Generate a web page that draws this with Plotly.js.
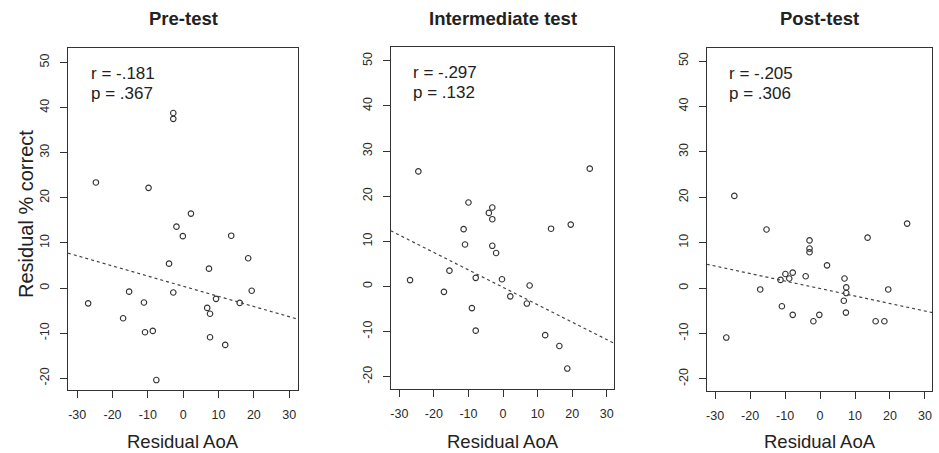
<!DOCTYPE html>
<html>
<head>
<meta charset="utf-8">
<script src="https://cdn.plot.ly/plotly-3.0.1.min.js"></script>
<style>html,body{margin:0;padding:0;background:#fff;}#chart{width:939px;height:453px;}</style>
</head>
<body>
<div id="chart"></div>
<script>
// ---- data ----
const panelTitles = ["Pre-test", "Intermediate test", "Post-test"];
const rLabels = ["r = -.181", "r = -.297", "r = -.205"];
const pLabels = ["p = .367", "p = .132", "p = .306"];

const preX  = [-2.8, -2.8, -24.7, -9.8, 2.2, -1.9, -0.1, 13.6, 18.4, -4.0, 7.3, -15.3, -2.8, 19.4, 9.3, -26.9, -11.1, 16.0, 6.8, 7.6, -17.0, -10.8, -8.6, 7.6, 11.9, -7.6];
const preY  = [38.8, 37.5, 23.4, 22.2, 16.5, 13.6, 11.5, 11.6, 6.6, 5.4, 4.3, -0.8, -1.0, -0.6, -2.4, -3.4, -3.2, -3.3, -4.4, -5.7, -6.7, -9.8, -9.5, -10.9, -12.6, -20.4];

const midX  = [-24.5, 25.1, -10.0, -3.1, -4.1, -3.1, 13.9, 19.6, -11.4, -11.0, -3.1, -2.0, -15.5, -26.9, -7.9, -0.3, 7.7, -17.1, 2.1, 6.9, -9.0, -7.9, 12.2, 16.3, 18.6];
const midY  = [25.5, 26.1, 18.6, 17.5, 16.3, 14.9, 12.8, 13.7, 12.7, 9.3, 9.0, 7.4, 3.5, 1.4, 1.9, 1.6, 0.2, -1.2, -2.2, -3.8, -4.8, -9.8, -10.8, -13.2, -18.2];

const postX = [-24.5, 24.9, -15.3, 13.6, -3.0, -3.0, -3.0, 2.0, -9.9, -7.8, -11.3, -8.8, -4.1, 7.0, -17.1, 7.5, 7.5, 19.5, 6.8, -10.9, 7.4, -7.8, -0.2, -1.9, 15.9, 18.4, -26.8, 9.2];
const postY = [20.3, 14.2, 12.9, 11.1, 10.5, 8.7, 7.9, 5.0, 3.1, 3.4, 1.8, 2.1, 2.6, 2.1, -0.3, 0.15, -1.1, -0.3, -2.8, -4.0, -5.4, -5.9, -5.9, -7.3, -7.3, -7.3, -10.9, -22.9];

// fitted regression lines (intercept, slope)
const fitIntercepts = [0.4, -0.2, -0.1];
const fitSlopes = [-0.225, -0.386, -0.165];

const xTicks = [-30, -20, -10, 0, 10, 20, 30];
const yTicks = [-20, -10, 0, 10, 20, 30, 40, 50];

// ---- layout geometry ----
const W = 939, H = 453;
const boxes = [ // pixel boxes [left, right, top, bottom]
  [68, 298, 48, 390],
  [390.7, 614.3, 47.3, 389.3],
  [706.7, 932.3, 48.3, 390.7]
];
const xRanges = [[-32.6, 32.5], [-32.5, 32.2], [-32.4, 32.1]];
const yRanges = [[-22.6, 53.2], [-22.8, 53.0], [-22.6, 52.8]];

const FONT = "Liberation Sans, Arial, Helvetica, sans-serif";
const INK = "#2a2a2a";

const xs = [preX, midX, postX];
const ys = [preY, midY, postY];

const traces = [];
const layout = {
  width: W, height: H,
  margin: {l: 0, r: 0, t: 0, b: 0},
  paper_bgcolor: "#fff", plot_bgcolor: "#fff",
  showlegend: false,
  font: {family: FONT, color: INK},
  annotations: []
};

for (let i = 0; i < 3; i++) {
  const suf = i === 0 ? "" : String(i + 1);
  const b = boxes[i];
  const xd = [b[0] / W, b[1] / W];
  const yd = [1 - b[3] / H, 1 - b[2] / H];
  layout["xaxis" + suf] = {
    domain: xd, range: xRanges[i], anchor: "y" + suf,
    showgrid: false, zeroline: false,
    showline: true, mirror: true, linecolor: "#333", linewidth: 1,
    ticks: "outside", ticklen: 7, tickwidth: 1, tickcolor: "#333",
    tickmode: "array", tickvals: xTicks, ticktext: xTicks.map(String),
    tickfont: {family: FONT, size: 12.5, color: INK},
    ticklabelstandoff: 6
  };
  layout["yaxis" + suf] = {
    domain: yd, range: yRanges[i], anchor: "x" + suf,
    showgrid: false, zeroline: false,
    showline: true, mirror: true, linecolor: "#333", linewidth: 1,
    ticks: "outside", ticklen: 7, tickwidth: 1, tickcolor: "#333",
    tickmode: "array", tickvals: yTicks, ticktext: yTicks.map(String),
    tickangle: -90,
    tickfont: {family: FONT, size: 12.5, color: INK},
    ticklabelstandoff: 6
  };
  traces.push({
    type: "scatter", mode: "markers",
    x: xs[i], y: ys[i],
    xaxis: "x" + suf, yaxis: "y" + suf,
    cliponaxis: false,
    marker: {symbol: "circle-open", size: 5.5, color: "#333", line: {width: 1.1, color: "#333"}},
    hoverinfo: "skip"
  });
  const lx = xRanges[i].slice();
  const ly = lx.map(v => fitIntercepts[i] + fitSlopes[i] * v);
  traces.push({
    type: "scatter", mode: "lines",
    x: lx, y: ly,
    xaxis: "x" + suf, yaxis: "y" + suf,
    line: {color: "#444", width: 1.2, dash: "dot"},
    hoverinfo: "skip"
  });
  const cx = (xd[0] + xd[1]) / 2;
  // panel title
  layout.annotations.push({
    text: "<b>" + panelTitles[i] + "</b>", xref: "paper", yref: "paper",
    x: cx, y: 1 - 19 / H, xanchor: "center", yanchor: "middle",
    showarrow: false, font: {family: FONT, size: 18.5, color: "#222"}
  });
  // x-axis title
  layout.annotations.push({
    text: "Residual AoA", xref: "paper", yref: "paper",
    x: cx, y: 1 - 441 / H, xanchor: "center", yanchor: "middle",
    showarrow: false, font: {family: FONT, size: 18.5, color: "#222"}
  });
  // r and p
  layout.annotations.push({
    text: rLabels[i], xref: "x" + suf + " domain", yref: "y" + suf + " domain",
    x: 0.09, y: 0.926, xanchor: "left", yanchor: "middle",
    showarrow: false, font: {family: FONT, size: 17, color: "#222"}
  });
  layout.annotations.push({
    text: pLabels[i], xref: "x" + suf + " domain", yref: "y" + suf + " domain",
    x: 0.09, y: 0.868, xanchor: "left", yanchor: "middle",
    showarrow: false, font: {family: FONT, size: 17, color: "#222"}
  });
}
// y-axis title
layout.annotations.push({
  text: "Residual % correct", xref: "paper", yref: "paper",
  x: 26 / W, y: 1 - 214 / H, xanchor: "center", yanchor: "middle",
  textangle: -90, showarrow: false, font: {family: FONT, size: 20, color: "#222"}
});

Plotly.newPlot("chart", traces, layout, {displayModeBar: false, staticPlot: true});
</script>
</body>
</html>
